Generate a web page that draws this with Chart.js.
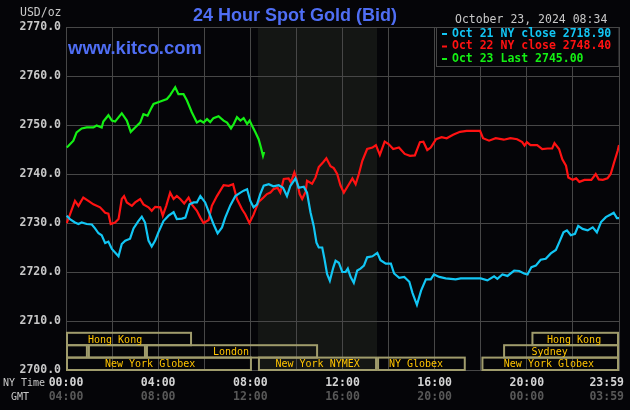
<!DOCTYPE html>
<html lang="en">
<head>
<meta charset="UTF-8">
<title>24 Hour Spot Gold (Bid)</title>
<script src="https://cdn.jsdelivr.net/npm/chart.js"></script>
<style>
    html, body { margin: 0; padding: 0; background: #050508; }
    #wrap { width: 630px; height: 410px; position: relative; }
</style>
</head>
<body>
<div id="wrap"><canvas id="goldChart"></canvas></div>
<script>
// hours since 00:00 NY time, and bid prices
const cyanHours = [0.03,0.17,0.39,0.54,0.68,0.90,1.12,1.26,1.41,1.55,1.70,1.84,1.99,2.13,2.28,2.42,2.57,2.78,2.93,3.14,3.29,3.43,3.58,3.72,3.87,4.01,4.23,4.45,4.67,4.81,5.03,5.18,5.36,5.54,5.68,5.83,6.04,6.26,6.40,6.58,6.77,6.91,7.13,7.35,7.57,7.71,7.86,8.00,8.14,8.29,8.43,8.58,8.80,9.00,9.23,9.42,9.59,9.74,9.96,10.10,10.32,10.46,10.61,10.75,10.87,10.97,11.12,11.22,11.33,11.45,11.60,11.70,11.84,11.99,12.13,12.23,12.35,12.49,12.64,12.78,12.93,13.07,13.30,13.51,13.65,13.88,14.10,14.24,14.46,14.68,14.90,15.04,15.23,15.41,15.62,15.83,15.97,16.20,16.48,16.70,16.91,17.13,18.00,18.29,18.58,18.72,18.94,19.16,19.45,19.67,19.88,20.03,20.20,20.39,20.60,20.82,21.04,21.26,21.41,21.59,21.74,21.91,22.09,22.23,22.42,22.64,22.86,23.04,23.22,23.43,23.62,23.77,23.91,24.00];
const cyanValues = [2731.5,2730.8,2730.1,2729.8,2730.1,2729.8,2729.7,2728.9,2727.9,2727.5,2725.9,2726.2,2724.7,2724.0,2723.2,2725.7,2726.4,2726.8,2728.9,2730.4,2731.3,2730.1,2726.4,2725.2,2726.4,2728.1,2730.4,2731.5,2732.2,2730.8,2730.9,2731.1,2733.8,2734.2,2734.2,2735.5,2734.2,2731.5,2729.8,2727.9,2729.1,2731.1,2733.6,2735.5,2736.2,2736.6,2736.9,2734.5,2733.2,2733.8,2735.9,2737.6,2737.9,2737.5,2737.7,2737.2,2735.5,2737.6,2739.1,2737.2,2737.4,2736.2,2732.2,2729.4,2726.0,2725.0,2725.0,2722.6,2719.6,2718.2,2720.9,2722.3,2721.9,2720.0,2720.0,2720.7,2719.0,2717.8,2720.3,2720.7,2721.3,2723.0,2723.2,2723.9,2722.4,2721.7,2721.7,2719.7,2718.8,2719.0,2718.0,2715.7,2713.3,2716.2,2718.5,2718.5,2719.5,2719.0,2718.7,2718.6,2718.5,2718.7,2718.7,2718.3,2719.1,2718.6,2719.5,2719.2,2720.3,2720.2,2719.7,2719.5,2721.0,2721.3,2722.5,2722.7,2723.8,2724.5,2726.1,2728.1,2728.5,2727.5,2727.8,2729.4,2728.8,2728.5,2729.1,2728.1,2730.2,2731.2,2731.7,2732.1,2731.0,2731.0];

const redHours = [0.03,0.17,0.39,0.54,0.75,0.97,1.19,1.48,1.70,1.84,1.94,2.13,2.28,2.42,2.52,2.64,2.86,3.00,3.22,3.36,3.58,3.72,3.87,4.09,4.20,4.35,4.52,4.67,4.81,4.96,5.13,5.32,5.46,5.68,5.83,5.97,6.19,6.33,6.55,6.84,7.06,7.25,7.42,7.64,7.78,7.96,8.14,8.36,8.57,8.72,8.87,9.00,9.18,9.30,9.45,9.66,9.76,9.91,10.00,10.14,10.25,10.40,10.46,10.68,10.83,10.97,11.16,11.30,11.48,11.62,11.77,11.91,12.06,12.20,12.43,12.57,12.71,12.86,13.07,13.30,13.45,13.62,13.83,14.00,14.20,14.45,14.70,14.93,15.14,15.36,15.51,15.68,15.83,16.06,16.30,16.52,16.80,17.10,17.39,17.97,18.10,18.36,18.65,19.00,19.29,19.58,19.80,19.90,20.00,20.16,20.45,20.67,20.90,21.10,21.20,21.40,21.54,21.70,21.80,21.99,22.14,22.28,22.50,22.80,22.99,23.12,23.30,23.50,23.64,23.79,23.94,24.00];
const redValues = [2730.0,2731.7,2734.5,2733.5,2735.2,2734.5,2733.8,2733.2,2732.1,2731.9,2729.8,2730.1,2730.8,2734.9,2735.5,2734.2,2733.5,2734.2,2734.9,2733.8,2733.2,2732.5,2733.3,2733.2,2731.5,2733.5,2736.2,2734.9,2735.5,2734.9,2734.0,2735.2,2733.8,2732.5,2731.1,2730.0,2730.6,2733.5,2735.5,2737.7,2737.6,2737.9,2734.9,2732.8,2731.8,2730.0,2731.7,2734.3,2735.2,2735.9,2736.2,2736.9,2737.2,2736.2,2739.0,2739.1,2738.3,2740.3,2739.0,2735.9,2734.9,2736.4,2738.6,2738.0,2739.3,2741.4,2742.4,2743.2,2741.6,2741.2,2740.0,2737.7,2736.2,2737.3,2739.1,2737.9,2740.0,2742.7,2745.1,2745.4,2745.9,2743.9,2746.6,2746.1,2745.1,2745.4,2744.1,2743.7,2743.8,2746.5,2746.6,2744.9,2745.4,2747.1,2747.5,2747.3,2748.0,2748.6,2748.8,2748.8,2747.3,2746.8,2747.3,2747.0,2747.3,2747.1,2746.5,2745.8,2746.5,2745.9,2745.9,2745.1,2745.2,2745.2,2746.3,2745.1,2743.0,2741.7,2739.3,2738.8,2739.1,2738.4,2738.8,2738.8,2740.0,2738.9,2738.8,2739.1,2740.0,2742.4,2744.7,2745.9];

const greenHours = [0.03,0.10,0.32,0.46,0.68,0.90,1.19,1.33,1.55,1.62,1.84,1.99,2.13,2.42,2.64,2.81,3.00,3.22,3.36,3.54,3.72,3.80,4.09,4.38,4.52,4.74,4.88,5.10,5.25,5.46,5.68,5.83,5.97,6.12,6.26,6.40,6.62,6.84,6.99,7.16,7.28,7.42,7.57,7.71,7.86,7.97,8.07,8.22,8.36,8.46,8.55,8.60];
const greenValues = [2745.4,2745.7,2746.8,2748.5,2749.3,2749.5,2749.5,2749.9,2749.5,2750.7,2752.0,2750.9,2750.7,2752.4,2750.9,2748.6,2749.5,2750.5,2752.2,2751.9,2753.6,2754.3,2754.8,2755.3,2756.1,2757.7,2756.3,2756.3,2755.0,2752.6,2750.5,2750.9,2750.5,2751.2,2750.6,2751.4,2751.8,2750.9,2750.5,2749.3,2750.2,2751.6,2750.9,2751.4,2750.2,2750.9,2749.9,2748.5,2747.1,2745.4,2743.7,2744.5];

const seriesColors = ['#12c6f4', '#ff1212', '#14f014'];
const legendLabels = ['Oct 21 NY close 2718.90', 'Oct 22 NY close 2748.40', 'Oct 23 Last 2745.00'];

// x axis labels
const tickHours = [0, 4, 8, 12, 16, 20, 24];
const nyTimeLabels = ['00:00', '04:00', '08:00', '12:00', '16:00', '20:00', '23:59'];
const gmtLabels = ['04:00', '08:00', '12:00', '16:00', '20:00', '00:00', '03:59'];

// trading session bars at the bottom (row 0 = top)
const sessionNames = ['Hong Kong', '', '', 'London', 'Hong Kong', 'Sydney', 'New York Globex', 'New York NYMEX', 'NY Globex', 'New York Globex'];
const sessionRows = [0, 1, 1, 1, 0, 1, 2, 2, 2, 2];
const sessionStart = [0, 0, 0.95, 3.47, 20.2, 18.97, 0, 8.33, 13.5, 18.03];
const sessionEnd = [5.47, 0.95, 3.47, 10.94, 24, 24, 8.07, 13.5, 17.35, 24];
const sessionLabelAt = [2.13, 0, 0, 7.16, 22.05, 20.99, 3.65, 10.92, 15.19, 20.96];
const nymexStart = 8.33, nymexEnd = 13.5;

function toPoints(hours, values) {
    return hours.map((h, i) => ({ x: h, y: values[i] }));
}

const MONO = '"DejaVu Sans Mono", monospace';

const kitcoDecor = {
    id: 'kitcoDecor',
    beforeDraw(chart) {
        const { ctx, chartArea, scales } = chart;
        ctx.save();
        ctx.fillStyle = '#050508';
        ctx.fillRect(0, 0, chart.width, chart.height);
        // NYMEX open shading
        const x1 = scales.x.getPixelForValue(nymexStart);
        const x2 = scales.x.getPixelForValue(nymexEnd);
        ctx.fillStyle = '#141614';
        ctx.fillRect(x1, chartArea.top, x2 - x1, chartArea.bottom - chartArea.top);
        ctx.restore();
    },
    afterDraw(chart) {
        const { ctx, chartArea, scales } = chart;
        const xs = scales.x;
        ctx.save();

        // title and site
        ctx.fillStyle = '#4f6ef4';
        ctx.textBaseline = 'middle';
        ctx.textAlign = 'center';
        ctx.font = 'bold 18px "Liberation Sans", Arial, sans-serif';
        ctx.fillText('24 Hour Spot Gold (Bid)', 295, 16);
        ctx.textAlign = 'left';
        ctx.font = 'bold 18.5px "Liberation Sans", Arial, sans-serif';
        ctx.fillText('www.kitco.com', 68, 49);

        // date / unit
        ctx.fillStyle = '#c8c8c8';
        ctx.font = '11.5px ' + MONO;
        ctx.fillText('October 23, 2024 08:34', 455, 20);
        ctx.fillText('USD/oz', 20, 13);

        // legend box
        ctx.fillStyle = '#050508';
        ctx.fillRect(436, chartArea.top, chartArea.right - 436, 39);
        ctx.strokeStyle = '#474747';
        ctx.lineWidth = 1;
        ctx.strokeRect(436.5, chartArea.top + 0.5, chartArea.right - 436.5, 39);
        ctx.font = 'bold 11.5px ' + MONO;
        legendLabels.forEach((t, i) => {
            const y = 34 + i * 12.5;
            ctx.fillStyle = seriesColors[i];
            ctx.fillRect(442, y - 1, 5, 2);
            ctx.fillText(t, 452, y);
        });

        // session bars
        const rowH = 12.4;
        const base = chartArea.bottom - 3 * rowH;
        ctx.strokeStyle = '#a09c6c';
        ctx.lineWidth = 2;
        ctx.font = '10px ' + MONO;
        ctx.textAlign = 'center';
        sessionNames.forEach((name, i) => {
            const a = xs.getPixelForValue(sessionStart[i]);
            const b = xs.getPixelForValue(sessionEnd[i]);
            const top = base + sessionRows[i] * rowH;
            ctx.strokeRect(a + 1, top, b - a - 2, rowH);
        });
        ctx.fillStyle = '#ffc400';
        sessionNames.forEach((name, i) => {
            if (!name) return;
            const top = base + sessionRows[i] * rowH;
            ctx.fillText(name, xs.getPixelForValue(sessionLabelAt[i]), top + rowH / 2 + 1);
        });

        // time axis labels
        ctx.font = 'bold 11.5px ' + MONO;
        tickHours.forEach((h, i) => {
            let x = xs.getPixelForValue(h);
            const w = ctx.measureText(nyTimeLabels[i]).width;
            x = Math.min(x, chart.width - 6 - w / 2);
            ctx.fillStyle = '#d4d4d4';
            ctx.fillText(nyTimeLabels[i], x, 383);
            ctx.fillStyle = '#585858';
            ctx.fillText(gmtLabels[i], x, 397);
        });
        ctx.textAlign = 'left';
        ctx.fillStyle = '#c8c8c8';
        ctx.font = '10px ' + MONO;
        ctx.fillText('NY Time', 3, 383);
        ctx.fillText('GMT', 11, 397);
        ctx.restore();
    }
};

new Chart(document.getElementById('goldChart'), {
    type: 'line',
    data: {
        datasets: [
            { label: legendLabels[0], data: toPoints(cyanHours, cyanValues), borderColor: seriesColors[0] },
            { label: legendLabels[1], data: toPoints(redHours, redValues), borderColor: seriesColors[1] },
            { label: legendLabels[2], data: toPoints(greenHours, greenValues), borderColor: seriesColors[2] }
        ]
    },
    options: {
        responsive: true,
        maintainAspectRatio: false,
        animation: false,
        layout: { padding: { top: 27, right: 11, bottom: 40, left: 0 } },
        elements: {
            line: { borderWidth: 2.2, tension: 0 },
            point: { radius: 0 }
        },
        plugins: {
            legend: { display: false },
            tooltip: { enabled: false }
        },
        scales: {
            x: {
                type: 'linear',
                min: 0,
                max: 24,
                ticks: { display: false, stepSize: 2 },
                grid: { color: '#474747', drawTicks: false },
                border: { color: '#474747' },
                afterFit: s => { s.height = 0; }
            },
            y: {
                min: 2700,
                max: 2770,
                ticks: {
                    stepSize: 10,
                    padding: 5,
                    color: '#c8c8c8',
                    font: { family: 'DejaVu Sans Mono', size: 11.5, weight: 'bold' },
                    callback: v => v.toFixed(1)
                },
                grid: { color: '#474747', drawTicks: false },
                border: { color: '#474747' },
                afterFit: s => { s.width = 66; }
            }
        }
    },
    plugins: [kitcoDecor]
});
</script>
</body>
</html>
